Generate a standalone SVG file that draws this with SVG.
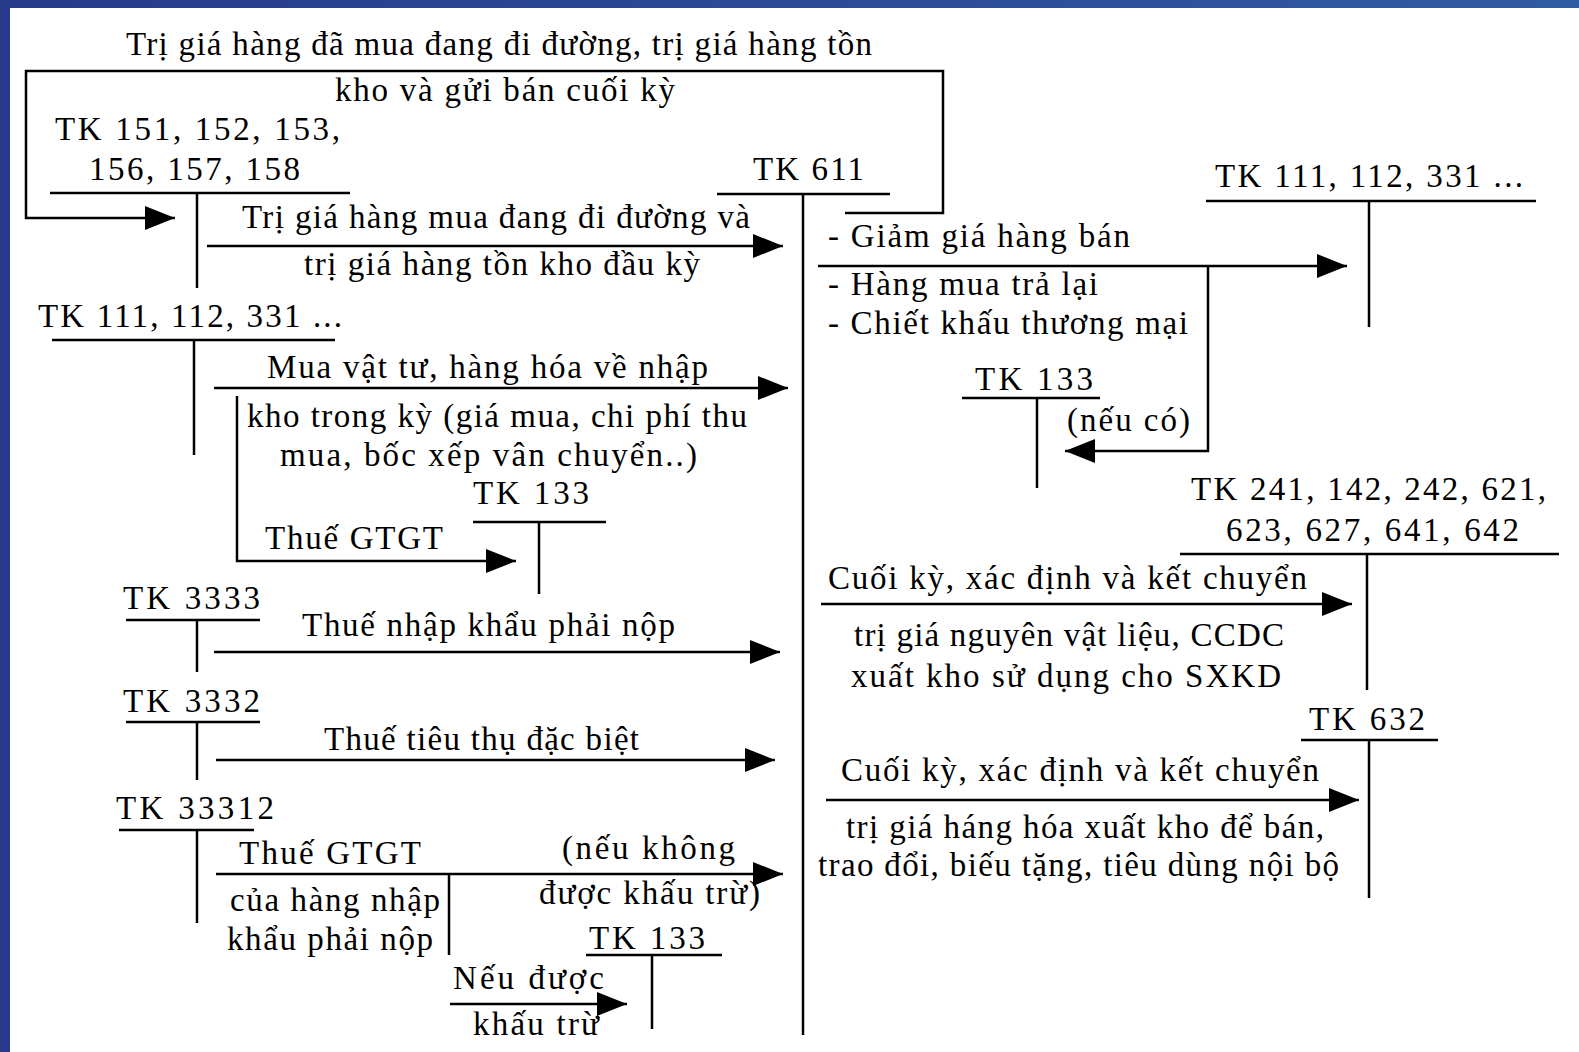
<svg xmlns="http://www.w3.org/2000/svg" width="1579" height="1052" viewBox="0 0 1579 1052">
  <defs>
    <linearGradient id="topBar" x1="0" y1="0" x2="1" y2="0">
      <stop offset="0" stop-color="#283a8a"/>
      <stop offset="1" stop-color="#2f5ba2"/>
    </linearGradient>
    <marker id="arrow" markerUnits="userSpaceOnUse" markerWidth="30" markerHeight="24" refX="30" refY="12" orient="auto">
      <path d="M0,0 L30,12 L0,24 Z" fill="#000"/>
    </marker>
    <style>
      text { font-family: "Liberation Serif", "Times New Roman", serif; font-size: 33px; fill: #000; }
      .ln { stroke: #000; stroke-width: 2.5; fill: none; }
      .arr { stroke: #000; stroke-width: 2.5; fill: none; marker-end: url(#arrow); }
    </style>
  </defs>

  <!-- page and frame -->
  <rect x="0" y="0" width="1579" height="1052" fill="#ffffff"/>
  <rect x="0" y="0" width="1579" height="8" fill="url(#topBar)"/>
  <rect x="0" y="0" width="10" height="1052" fill="#283a8c"/>

  <!-- T-accounts -->
  <g id="tk611">
    <text x="753" y="180" textLength="111" lengthAdjust="spacing">TK 611</text>
    <path class="ln" d="M717,194 H890 M803,194 V1035"/>
  </g>
  <g id="tk151">
    <text x="55" y="140" textLength="285" lengthAdjust="spacing">TK 151, 152, 153,</text>
    <text x="89" y="180" textLength="211" lengthAdjust="spacing">156, 157, 158</text>
    <path class="ln" d="M50,193 H350 M197,193 V288"/>
  </g>
  <g id="tk111-left">
    <text x="38" y="327" textLength="304" lengthAdjust="spacing">TK 111, 112, 331 ...</text>
    <path class="ln" d="M52,340 H335 M194,340 V455"/>
  </g>
  <g id="tk133-a">
    <text x="473" y="504" textLength="116" lengthAdjust="spacing">TK 133</text>
    <path class="ln" d="M473,522 H606 M539,522 V594"/>
  </g>
  <g id="tk3333">
    <text x="123" y="609" textLength="137" lengthAdjust="spacing">TK 3333</text>
    <path class="ln" d="M126,620 H260 M197,620 V672"/>
  </g>
  <g id="tk3332">
    <text x="123" y="712" textLength="137" lengthAdjust="spacing">TK 3332</text>
    <path class="ln" d="M126,722 H260 M197,722 V780"/>
  </g>
  <g id="tk33312">
    <text x="116" y="819" textLength="158" lengthAdjust="spacing">TK 33312</text>
    <path class="ln" d="M119,830 H254 M197,830 V923"/>
  </g>
  <g id="tk133-b">
    <text x="589" y="949" textLength="116" lengthAdjust="spacing">TK 133</text>
    <path class="ln" d="M586,955 H722 M652,955 V1029"/>
  </g>
  <g id="tk111-right">
    <text x="1215" y="187" textLength="308" lengthAdjust="spacing">TK 111, 112, 331 ...</text>
    <path class="ln" d="M1206,201 H1536 M1369,201 V327"/>
  </g>
  <g id="tk133-c">
    <text x="975" y="390" textLength="118" lengthAdjust="spacing">TK 133</text>
    <path class="ln" d="M962,398 H1100 M1037,398 V488"/>
  </g>
  <g id="tk241">
    <text x="1191" y="500" textLength="355" lengthAdjust="spacing">TK 241, 142, 242, 621,</text>
    <text x="1226" y="541" textLength="293" lengthAdjust="spacing">623, 627, 641, 642</text>
    <path class="ln" d="M1180,554 H1559 M1367,554 V690"/>
  </g>
  <g id="tk632">
    <text x="1309" y="730" textLength="116" lengthAdjust="spacing">TK 632</text>
    <path class="ln" d="M1301,740 H1438 M1369,740 V898"/>
  </g>

  <!-- connectors -->
  <g id="connectors">
    <!-- closing balances carried back -->
    <polyline class="arr" points="845,213 943,213 943,71 26,71 26,218 175,218"/>
    <path class="arr" d="M207,246 H783"/>
    <path class="arr" d="M214,388 H788"/>
    <polyline class="arr" points="237,396 237,561 516,561"/>
    <path class="arr" d="M214,652 H780"/>
    <path class="arr" d="M216,760 H775"/>
    <path class="arr" d="M216,874 H783"/>
    <path class="ln" d="M449,874 V955"/>
    <path class="arr" d="M450,1004 H627"/>
    <path class="arr" d="M818,266 H1347"/>
    <polyline class="arr" points="1208,266 1208,451 1065,451"/>
    <path class="arr" d="M821,604 H1352"/>
    <path class="arr" d="M826,800 H1359"/>
  </g>

  <!-- connector labels -->
  <g id="labels">
    <text x="126" y="55" textLength="746" lengthAdjust="spacing">Trị giá hàng đã mua đang đi đường, trị giá hàng tồn</text>
    <text x="335" y="101" textLength="340" lengthAdjust="spacing">kho và gửi bán cuối kỳ</text>
    <text x="242" y="228" textLength="508" lengthAdjust="spacing">Trị giá hàng mua đang đi đường và</text>
    <text x="304" y="275" textLength="396" lengthAdjust="spacing">trị giá hàng tồn kho đầu kỳ</text>
    <text x="267" y="378" textLength="441" lengthAdjust="spacing">Mua vật tư, hàng hóa về nhập</text>
    <text x="247" y="427" textLength="500" lengthAdjust="spacing">kho trong kỳ (giá mua, chi phí thu</text>
    <text x="280" y="466" textLength="417" lengthAdjust="spacing">mua, bốc xếp vân chuyển..)</text>
    <text x="265" y="549" textLength="178" lengthAdjust="spacing">Thuế GTGT</text>
    <text x="302" y="636" textLength="373" lengthAdjust="spacing">Thuế nhập khẩu phải nộp</text>
    <text x="324" y="750" textLength="315" lengthAdjust="spacing">Thuế tiêu thụ đặc biệt</text>
    <text x="239" y="864" textLength="182" lengthAdjust="spacing">Thuế GTGT</text>
    <text x="562" y="859" textLength="173" lengthAdjust="spacing">(nếu không</text>
    <text x="539" y="904" textLength="221" lengthAdjust="spacing">được khấu trừ)</text>
    <text x="230" y="911" textLength="210" lengthAdjust="spacing">của hàng nhập</text>
    <text x="227" y="950" textLength="206" lengthAdjust="spacing">khẩu phải nộp</text>
    <text x="453" y="989" textLength="151" lengthAdjust="spacing">Nếu được</text>
    <text x="473" y="1035" textLength="126" lengthAdjust="spacing">khấu trừ</text>
    <text x="828" y="247" textLength="302" lengthAdjust="spacing">- Giảm giá hàng bán</text>
    <text x="828" y="295" textLength="270" lengthAdjust="spacing">- Hàng mua trả lại</text>
    <text x="828" y="334" textLength="360" lengthAdjust="spacing">- Chiết khấu thương mại</text>
    <text x="1067" y="431" textLength="123" lengthAdjust="spacing">(nếu có)</text>
    <text x="828" y="589" textLength="479" lengthAdjust="spacing">Cuối kỳ, xác định và kết chuyển</text>
    <text x="854" y="646" textLength="430" lengthAdjust="spacing">trị giá nguyên vật liệu, CCDC</text>
    <text x="851" y="687" textLength="430" lengthAdjust="spacing">xuất kho sử dụng cho SXKD</text>
    <text x="841" y="781" textLength="478" lengthAdjust="spacing">Cuối kỳ, xác định và kết chuyển</text>
    <text x="846" y="838" textLength="478" lengthAdjust="spacing">trị giá háng hóa xuất kho để bán,</text>
    <text x="818" y="876" textLength="521" lengthAdjust="spacing">trao đổi, biếu tặng, tiêu dùng nội bộ</text>
  </g>
</svg>
